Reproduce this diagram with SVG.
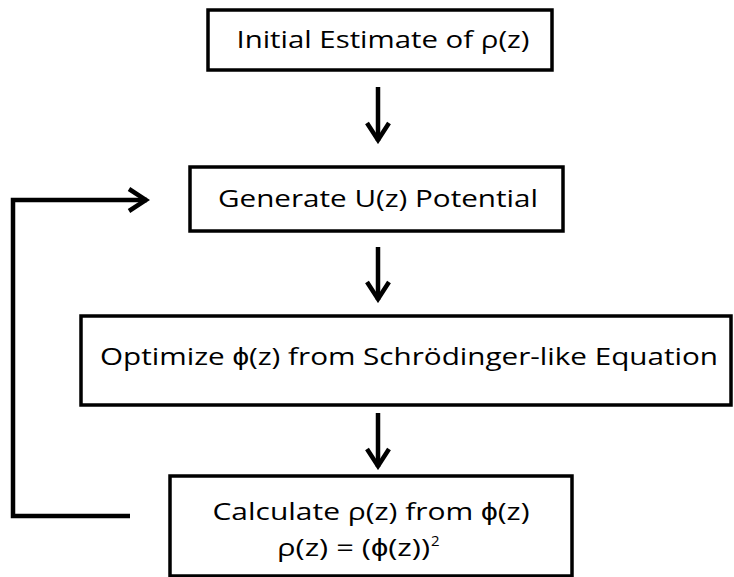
<svg xmlns="http://www.w3.org/2000/svg" width="734" height="577" viewBox="0 0 734 577">
<defs>
<style>
.box{fill:#fff;stroke:#000;stroke-width:3.5}
.t{font-family:"Open Sans","Liberation Sans",Arial,sans-serif;font-size:24.5px;fill:#000;text-anchor:middle}
.s{text-anchor:start}
.sup{font-size:15px}
.c{fill:none;stroke:#000;stroke-width:4.5}
</style>
<marker id="ah" markerWidth="24" markerHeight="28" viewBox="0 0 24 28" refX="21" refY="14" orient="auto" markerUnits="userSpaceOnUse">
<path d="M3,3 L20,14 L3,25" fill="none" stroke="#000" stroke-width="4.5"/>
</marker>
</defs>
<g id="n1"><rect class="box" x="208" y="10" width="344" height="60"/><text class="t" x="383" y="48" textLength="293" lengthAdjust="spacingAndGlyphs">Initial Estimate of ρ(z)</text></g>
<g id="n2"><rect class="box" x="190" y="167" width="373" height="64"/><text class="t" x="378" y="207" textLength="320" lengthAdjust="spacingAndGlyphs">Generate U(z) Potential</text></g>
<g id="n3"><rect class="box" x="81" y="316" width="650" height="89"/><text class="t" x="409" y="365" textLength="618" lengthAdjust="spacingAndGlyphs">Optimize ϕ(z) from Schrödinger-like Equation</text></g>
<g id="n4"><rect class="box" x="170" y="476" width="402" height="100"/><text class="t" x="371" y="520" textLength="317" lengthAdjust="spacingAndGlyphs">Calculate ρ(z) from ϕ(z)</text><text class="t s" x="277" y="556" textLength="153" lengthAdjust="spacingAndGlyphs">ρ(z) = (ϕ(z))</text><text class="t s sup" x="431" y="546">2</text></g>
<g id="connectors">
<path class="c" d="M378,87 V141" marker-end="url(#ah)"/>
<path class="c" d="M378,247 V300" marker-end="url(#ah)"/>
<path class="c" d="M378,413 V467" marker-end="url(#ah)"/>
<path class="c" d="M130,516 H13 V200 H147" marker-end="url(#ah)"/>
</g>
</svg>
